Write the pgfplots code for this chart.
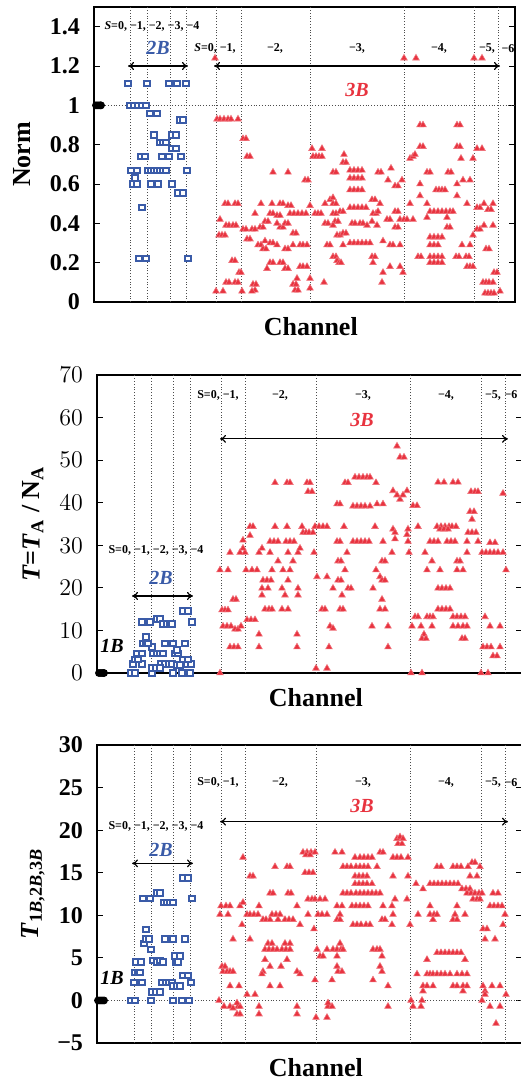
\documentclass[border=0pt]{standalone}
\usepackage{fontspec}
\setmainfont{Liberation Serif}
\usepackage{pgfplots}
\pgfplotsset{compat=1.18}
\usetikzlibrary{arrows.meta}
\definecolor{blueB}{HTML}{3A5BA8}
\definecolor{redB}{HTML}{E8333F}

\pgfplotsset{
  chan/.style={
    scale only axis, clip=false,
    axis line style={line width=0.9pt},
    xtick=\empty, tick align=inside, major tick length=3pt,
    tick style={black, line width=0.5pt},
    tick label style={font=\fontsize{12}{12}\selectfont\bfseries},
    yticklabel style={xshift=-3.5pt},
    label style={font=\fontsize{13}{14}\selectfont\bfseries},
    xlabel={Channel},
    xlabel style={at={(axis description cs:0.515,-0.083)}, anchor=center},
    grid style={densely dotted, black!70, line width=0.4pt},
    extra x tick labels={},
    extra x tick style={grid=major, major tick length=0pt},
  },
  red3/.style={only marks, mark=triangle*, mark size=1.9pt,
    mark options={fill=redB, draw=redB!70!white, line width=0.3pt}},
  blue2/.style={only marks, mark=square*, mark size=1.35pt,
    mark options={fill=white, draw=blueB, line width=1pt}},
  one/.style={only marks, mark=*, mark size=1.75pt, black},
}
\tikzset{
  ann/.style={font=\fontsize{6}{6}\selectfont\bfseries},
  lab/.style={font=\fontsize{10}{10}\selectfont\bfseries\itshape},
  arr/.style={{To[length=3pt,width=4pt]}-{To[length=3pt,width=4pt]}, line width=0.6pt},
}

\begin{document}
\begin{tikzpicture}

% ---------- panel 1: Norm ----------
\begin{axis}[chan,
  at={(47pt,-151pt)}, anchor=south west,
  width=210.5pt, height=147.5pt,
  xmin=94, xmax=515, ymin=0, ymax=1.5,
  ytick={0,0.2,0.4,0.6,0.8,1,1.2,1.4},
  yticklabels={0,0.2,0.4,0.6,0.8,1,1.2,1.4},
  extra x ticks={130,147,170,186,216,241,310,404,474,498},
  extra y ticks={1}, extra y tick labels={},
  extra y tick style={grid=major, major tick length=0pt},
  ylabel={Norm},
  ylabel style={at={(axis description cs:-0.171,0.5)}, anchor=center},
]
\addplot[one] coordinates {(96,1)(98,1)(100,1)(101,1)};
\addplot[blue2] coordinates {
(128,1.11)(147,1.11)(169,1.11)(177,1.11)(186,1.11)
(130,1.00)(134,1.00)(138,1.00)(142,1.00)(146,1.00)
(150,0.96)(157,0.96)(180,0.925)(183,0.925)
(154,0.85)(172,0.85)(176,0.85)(160,0.81)(163,0.81)(166,0.81)
(172,0.78)(176,0.78)
(141,0.74)(145,0.74)(162,0.74)(169,0.74)(181,0.74)
(131,0.67)(137,0.67)(148,0.67)(151,0.67)(154,0.67)(157,0.67)(160,0.67)(163,0.67)(166,0.67)(187,0.67)
(135,0.63)(133,0.60)(137,0.60)(151,0.60)(158,0.60)(172,0.60)
(178,0.555)(183,0.555)(142,0.48)
(139,0.22)(146,0.22)(188,0.22)
};
\addplot[red3] coordinates {
(215,1.24)(404,1.24)(416,1.24)(474,1.24)(482,1.24)
(217,0.93)(220,0.93)(224,0.93)(228,0.93)(231,0.93)(238,0.93)
(243,0.83)(246,0.83)(247,0.74)(250,0.74)
(312,0.78)(322,0.78)(313,0.74)(316,0.74)(319,0.74)(322,0.74)
(344,0.75)(343,0.71)(346,0.71)
(273,0.66)(288,0.66)(305,0.62)(308,0.62)(333,0.66)(336,0.66)
(350,0.67)(354,0.67)(358,0.67)(362,0.67)
(350,0.63)(354,0.63)(358,0.63)(362,0.63)
(350,0.57)(354,0.57)(358,0.57)(362,0.57)
(378,0.66)(381,0.66)(391,0.68)(388,0.62)(395,0.59)(398,0.59)(402,0.62)
(420,0.90)(423,0.90)(457,0.90)(460,0.90)
(420,0.79)(423,0.79)(457,0.79)(460,0.79)
(410,0.73)(413,0.74)(415,0.75)(427,0.66)(430,0.66)(448,0.66)(451,0.66)
(461,0.73)(473,0.73)(477,0.78)(482,0.78)
(420,0.60)(436,0.57)(439,0.57)(442,0.57)(445,0.57)(457,0.60)(463,0.62)(470,0.62)
(410,0.50)(420,0.54)(427,0.50)(457,0.54)(467,0.50)(477,0.48)(480,0.48)(484,0.50)(493,0.50)(488,0.47)(491,0.47)
(430,0.46)(434,0.46)(438,0.46)(442,0.46)(446,0.46)(450,0.46)(453,0.46)
(400,0.42)(404,0.42)(407,0.42)(413,0.42)(427,0.43)(447,0.43)(447,0.38)(450,0.38)
(477,0.37)(480,0.37)(484,0.39)(493,0.39)(473,0.34)
(430,0.33)(434,0.33)(438,0.33)(442,0.33)(430,0.29)(434,0.29)(438,0.29)(462,0.29)(470,0.29)(486,0.27)(489,0.27)
(418,0.23)(421,0.23)(430,0.23)(434,0.23)(438,0.23)(442,0.23)(430,0.20)(434,0.20)(438,0.20)(442,0.20)
(456,0.23)(459,0.23)(466,0.23)(469,0.23)(467,0.18)(470,0.18)(473,0.18)
(494,0.15)(497,0.15)(483,0.10)(486,0.10)(489,0.10)(493,0.10)
(485,0.045)(488,0.045)(491,0.045)(494,0.045)(500,0.055)
(390,0.18)(400,0.18)(383,0.15)(403,0.15)(382,0.10)
(373,0.20)(372,0.23)(375,0.23)(333,0.23)(336,0.23)(337,0.21)(339,0.20)(341,0.20)
(324,0.10)(310,0.12)(310,0.07)
(293,0.09)(296,0.09)(297,0.12)(295,0.06)(298,0.06)
(253,0.09)(256,0.09)(255,0.06)(252,0.055)(242,0.055)(216,0.055)(223,0.055)(226,0.10)(229,0.10)(235,0.10)(238,0.10)
(239,0.15)(241,0.15)(232,0.21)(235,0.21)
(220,0.42)(225,0.50)(228,0.50)(235,0.50)(238,0.50)(226,0.39)(229,0.39)(233,0.39)(236,0.39)(219,0.34)(222,0.34)(225,0.34)
(243,0.37)(246,0.37)(252,0.37)(255,0.37)(247,0.32)(250,0.32)
(255,0.45)(261,0.50)(258,0.29)(261,0.29)(265,0.31)(263,0.27)(266,0.27)
(260,0.38)(263,0.38)(265,0.41)(268,0.41)(270,0.45)(273,0.45)(272,0.50)
(280,0.50)(283,0.50)(288,0.49)(291,0.49)
(290,0.45)(294,0.45)(298,0.45)(302,0.45)(306,0.45)
(277,0.44)(280,0.44)(280,0.38)(283,0.38)(277,0.40)(285,0.40)(288,0.40)(293,0.35)(296,0.35)
(270,0.30)(273,0.30)(277,0.29)(285,0.27)(288,0.27)(293,0.29)(300,0.29)(303,0.29)(307,0.29)
(270,0.20)(273,0.20)(267,0.17)(280,0.20)(283,0.20)(285,0.17)(288,0.17)(300,0.18)(303,0.18)(307,0.18)
(310,0.49)(315,0.45)(318,0.45)(321,0.45)(325,0.50)(330,0.52)(333,0.53)(333,0.50)(336,0.50)
(333,0.45)(336,0.45)(340,0.46)(343,0.46)
(325,0.40)(328,0.40)(335,0.41)(338,0.41)(333,0.39)(337,0.34)(340,0.34)
(327,0.29)(330,0.29)(343,0.29)(343,0.35)(346,0.35)
(350,0.30)(354,0.30)(358,0.30)(362,0.30)(366,0.30)(370,0.30)
(352,0.40)(355,0.40)(360,0.40)(363,0.40)(367,0.39)(372,0.41)(377,0.39)
(373,0.45)(376,0.45)(378,0.46)(372,0.52)(375,0.52)(380,0.50)
(350,0.48)(354,0.48)(358,0.48)(362,0.48)(366,0.48)
(387,0.42)(390,0.42)(395,0.46)(398,0.46)(395,0.38)(398,0.38)
(383,0.31)(390,0.29)(393,0.29)(400,0.29)
};
\draw[arr] (axis cs:128,1.2) -- (axis cs:188,1.2);
\draw[arr] (axis cs:214,1.2) -- (axis cs:500,1.2);
\node[ann] at (axis cs:152,1.40) {\textit{S}=0, −1, −2, −3, −4};
\node[lab, text=blueB] at (axis cs:158,1.29) {2B};
\node[ann] at (axis cs:215,1.29) {\textit{S}=0, −1,};
\node[ann] at (axis cs:275,1.29) {−2,};
\node[ann] at (axis cs:357,1.29) {−3,};
\node[ann] at (axis cs:439,1.29) {−4,};
\node[ann] at (axis cs:487,1.29) {−5,};
\node[ann] at (axis cs:508,1.29) {−6};
\node[lab, text=redB] at (axis cs:357,1.08) {3B};
\end{axis}

% ---------- panel 2: T = T_A / N_A ----------
\begin{axis}[chan,
  at={(48.5pt,-336.5pt)}, anchor=south west,
  width=212.5pt, height=149pt,
  xmin=97, xmax=522, ymin=0, ymax=70,
  ytick={0,10,20,30,40,50,60,70},
  extra x ticks={134,151,173,190,221,245,316,410,481,505},
  ylabel={\textit{T}=\textit{T}\textsubscript{A} / N\textsubscript{A}},
  ylabel style={at={(axis description cs:-0.151,0.5)}, anchor=center},
]
\addplot[one] coordinates {(99,0)(101,0)(103,0)(104,0)};
\addplot[blue2] coordinates {
(131,0)(135,0)(152,0)(173,0)(182,0)(190,0)
(133,2.1)(142,2.1)(161,2.1)(165,2.1)(169,2.1)(172,2.1)(187,2.1)(191,2.1)
(152,1.2)(156,1.2)(160,1.2)(177,1.9)(180,1.9)
(135,3.2)(138,3.2)(183,3.2)(188,3.2)
(137,4.6)(142,4.6)(153,4.6)(157,4.6)(160,4.6)(163,4.6)(175,4.6)(178,4.6)
(177,5.4)(152,6.1)
(143,7.0)(146,7.0)(148,7.0)(165,7.0)(173,7.0)(185,7.0)(146,8.5)
(142,12.0)(150,12.0)(192,12.0)(157,12.7)(160,12.7)
(163,11.5)(167,11.5)(170,11.5)(172,11.5)(183,14.6)(188,14.6)
};
\addplot[red3] coordinates {
(397,53.3)(400,50.7)(404,50.7)
(275,44.7)(287,44.7)(290,44.7)(307,44.7)(310,44.7)(345,44.7)(348,44.7)
(355,46.0)(359,46.0)(363,46.0)(367,46.0)(370,46.0)(376,44.7)
(308,42.6)(312,42.6)
(393,42.8)(407,42.8)(397,41.8)(400,40.8)(403,41.8)
(337,39.7)(340,39.7)(353,39.2)(357,39.2)(361,39.2)(365,39.2)(370,39.2)(377,39.7)(383,39.7)
(413,39.3)(417,39.3)
(438,44.8)(444,44.8)(453,44.8)(458,44.8)
(471,42.6)(475,42.6)(478,42.6)(503,42.2)
(470,37.9)(474,37.9)(472,36.1)
(250,34.4)(253,34.4)(275,34.4)(287,34.4)(302,34.4)(315,34.4)(319,34.4)(323,34.4)(327,34.4)(344,34.4)(375,34.4)(418,34.4)
(437,34.4)(441,34.4)(445,34.4)(449,34.4)(452,34.4)(456,34.4)
(393,33.8)(408,33.8)(440,33.8)(444,33.8)(448,33.8)
(303,33)(306,33)(309,33)(313,33)(250,32.3)(395,33)(407,32.5)(468,33)(472,33)(476,33)
(270,30.9)(274,30.9)(278,30.9)(286,30.9)(290,30.9)(294,30.9)(337,30.9)(340,30.9)
(353,30.9)(357,30.9)(361,30.9)(365,30.9)(369,30.9)(383,30.9)(395,31.5)(408,30.9)
(430,30.9)(434,30.9)(438,30.9)(447,30.9)(451,30.9)(455,30.9)(467,30.9)(478,30.9)(490,30.6)(495,30.6)
(230,28.3)(240,28.3)(245,28.3)(259,28.3)(270,28.3)(288,28.3)(298,28.3)(314,28.3)(347,28.3)(392,28.3)(409,28.3)(425,28.3)(467,28.3)
(482,28.3)(486,28.3)(490,28.3)(494,28.3)(498,28.3)(503,28.3)
(243,29.3)(262,29.3)(300,29.3)(243,31.2)
(278,26.3)(293,26.3)(338,26.3)(341,26.3)(382,26.3)(385,26.3)(432,26.3)(457,26.3)(460,26.3)
(220,24.2)(228,24.2)(246,24.2)(252,24.2)(257,24.2)(272,24.2)(283,24.2)(290,24.2)(345,24.2)(376,24.2)(427,24.2)(440,24.2)(457,24.2)(463,24.2)(506,24.2)
(317,22.6)(327,22.6)(380,22.6)
(263,21.8)(267,21.8)(271,21.8)(288,21.8)(338,21.8)(341,21.8)(382,21.8)(385,21.8)
(262,19.9)(268,19.9)(282,19.9)(298,19.9)(333,19.9)(348,19.9)(351,19.9)(373,19.9)(438,19.9)(442,19.9)(446,19.9)(450,19.9)
(262,18.3)(285,18.3)(298,18.3)(342,18.3)
(233,17.3)(236,17.3)(382,17.3)
(222,14.8)(225,14.8)(228,14.8)(265,15)(269,15)(272,15)(282,15)(288,15)(322,15)(325,15)(340,15)(343,15)(380,15)(385,15)(438,15)(442,15)(446,15)(450,15)
(415,13.2)(418,13.2)(427,13.2)(430,13.2)(433,13.2)(453,13.2)(457,13.2)(461,13.2)(465,13.2)(485,13.2)
(247,12.5)(251,12.5)(255,12.5)
(223,11)(227,11)(231,11)(235,10.3)(238,10.3)(241,11)(330,11)(333,10.5)(372,11)(388,11)(412,11)(421,11)(432,11)(453,11)(458,11)(463,11)(467,11)(490,11)(500,11)
(259,9.1)(297,9.1)(424,9.1)(422,8.1)(426,8.1)(462,8.1)(465,8.1)
(230,6.1)(234,6.1)(238,6.1)(259,6.1)(297,6.1)(329,6.1)(388,6.1)(483,6.1)(487,6.1)(491,6.1)(500,6.1)
(493,4.0)(497,4.0)(316,1.1)(327,1.1)
(220,0)(411,0)(422,0)(481,0)(488,0)
};
\draw[arr] (axis cs:132,18.1) -- (axis cs:193,18.1);
\draw[arr] (axis cs:220,55) -- (axis cs:508,55);
\node[ann] at (axis cs:156,28.7) {S=0, −1, −2, −3, −4};
\node[lab, text=blueB] at (axis cs:161,22.3) {2B};
\node[lab] at (axis cs:112,6.3) {1B};
\node[ann] at (axis cs:218,65.3) {S=0, −1,};
\node[ann] at (axis cs:280,65.3) {−2,};
\node[ann] at (axis cs:363,65.3) {−3,};
\node[ann] at (axis cs:446,65.3) {−4,};
\node[ann] at (axis cs:493,65.3) {−5,};
\node[ann] at (axis cs:511,65.3) {−6};
\node[lab, text=redB] at (axis cs:362,59.4) {3B};
\end{axis}

% ---------- panel 3: T_{1B,2B,3B} ----------
\begin{axis}[chan,
  at={(48.5pt,-521.5pt)}, anchor=south west,
  width=212.5pt, height=149pt,
  xmin=97, xmax=522, ymin=-5, ymax=30,
  ytick={-5,0,5,10,15,20,25,30},
  yticklabels={−5,0,5,10,15,20,25,30},
  extra x ticks={134,151,173,190,221,245,316,410,481,505},
  extra y ticks={0}, extra y tick labels={},
  extra y tick style={grid=major, major tick length=0pt},
  ylabel={\textit{T}\textsubscript{1\textit{B},2\textit{B},3\textit{B}}},
  ylabel style={at={(axis description cs:-0.151,0.5)}, anchor=center},
]
\addplot[one] coordinates {(98,0)(100,0)(102,0)(104,0)};
\addplot[blue2] coordinates {
(131,0)(135,0)(151,0)(173,0)(182,0)(189,0)
(134,2.1)(142,2.1)(162,2.1)(166,2.1)(169,2.1)(172,2.1)(191,2.1)
(152,1.0)(156,1.0)(160,1.0)(173,1.7)(177,1.7)(180,1.7)
(183,2.9)(188,2.9)(135,3.25)(138,3.25)(140,3.25)
(136,4.5)(141,4.5)(153,4.7)(157,4.5)(160,4.7)(163,4.5)(176,4.5)(178,4.5)
(175,5.2)(180,5.2)
(151,6.0)(144,6.7)(146,7.2)(149,7.2)(165,7.2)(173,7.2)(185,7.2)(146,8.3)
(143,12.0)(150,12.0)(192,12.0)(157,12.6)(160,12.6)
(164,11.5)(167,11.5)(170,11.5)(173,11.5)(183,14.4)(188,14.4)
};
\addplot[red3] coordinates {
(397,19)(400,19.2)(403,19)(398,18.4)(402,18.4)
(303,17.4)(307,17.4)(311,17.4)(315,17.4)(306,17.1)(310,17.1)(335,17.4)(342,17.4)(380,17.4)(383,17.4)
(243,16.8)(355,16.8)(360,16.8)(364,16.8)(368,16.8)(372,16.8)(393,16.8)(397,16.8)(401,16.8)(408,16.8)
(472,16.2)(475,16.2)
(275,15.7)(287,15.7)(290,15.7)(343,15.7)(347,15.7)(351,15.7)(356,15.7)(360,15.7)(364,15.7)(368,15.7)(377,15.7)
(437,15.7)(441,15.7)(453,15.7)(457,15.7)(461,15.7)(468,15.7)(480,15.7)
(305,15)(309,15)(313,15)
(250,14.6)(253,14.6)(355,14.6)(359,14.6)(363,14.6)(367,14.6)(393,14.6)(408,14.6)(470,14.6)(477,14.6)
(355,13.7)(359,13.7)(363,13.7)(367,13.7)(372,13.7)(416,13.7)(430,13.7)(434,13.7)(438,13.7)(442,13.7)(446,13.7)(450,13.7)(454,13.7)(458,13.7)
(423,13.1)(462,13.1)(466,13.1)(470,13.1)
(270,12.6)(273,12.6)(288,12.6)(291,12.6)(343,12.6)(347,12.6)(351,12.6)(356,12.6)(360,12.6)(364,12.6)(368,12.6)(372,12.6)(376,12.6)(380,12.6)
(467,12.6)(471,12.6)(475,12.6)(479,12.6)(482,12.6)(493,12.6)(498,12.6)
(308,11.9)(312,11.9)(315,11.9)(320,11.9)(325,11.9)(395,11.9)(407,11.9)(473,11.9)(477,11.9)(480,11.9)
(221,11.1)(226,11.1)(230,11.1)(240,11.1)(243,11.5)(259,11.1)(297,11.1)(337,11.1)(342,11.1)(352,11.1)(356,11.1)(360,11.1)(364,11.1)(368,11.1)(383,11.1)(392,11.1)(430,11.1)(457,11.1)(490,11.1)(494,11.1)(498,11.1)(502,11.1)
(220,10.1)(228,10.1)(247,10.1)(250,10.1)(254,10.1)(258,10.1)(272,10.1)(276,10.1)(280,10.1)(308,10.1)(318,10.1)(322,10.1)(327,10.1)(340,10.1)(393,10.1)(418,10.1)(430,10.1)(434,10.1)(437,10.1)(455,10.1)(465,10.1)(505,10.1)
(263,9.5)(266,9.5)(270,9.5)(278,9.5)(285,9.5)(289,9.5)(293,9.5)(337,9.5)(340,9.5)(382,9.5)(385,9.5)(433,9.5)(453,9.5)(457,9.5)
(242,8.9)(300,8.9)(353,8.9)(357,8.9)(361,8.9)(366,8.9)(370,8.9)(392,8.9)(410,8.9)(503,8.9)
(314,8.4)(483,8.4)(487,8.4)
(233,7.2)(250,7.2)(485,7.2)(495,7.2)
(268,6.7)(272,6.7)(285,6.7)(290,6.7)(340,6.7)
(265,6)(269,6)(273,6)(277,6)(282,6)(286,6)(290,6)(317,6)(327,6)(333,6)(337,6)(341,6)(343,6)(373,6)(377,6)(380,6)
(320,5.2)(323,5.2)(337,5.2)(382,5.2)(437,5.6)(441,5.6)(445,5.6)(449,5.6)(453,5.6)(457,5.6)(461,5.6)
(265,4.8)(287,4.8)(427,4.8)(465,4.8)
(222,4.0)(225,4.0)(270,4.0)(281,4.0)(337,4.0)(380,4.0)
(223,3.4)(227,3.4)(230,3.4)(233,3.4)(263,3.4)(297,3.4)(338,3.4)(342,3.4)(382,3.4)
(262,3.1)(300,3.1)(417,3.1)(427,3.1)(430,3.1)(433,3.1)(437,3.1)(441,3.1)(445,3.1)(450,3.1)(457,3.1)(462,3.1)(467,3.1)
(315,2.4)(332,2.4)(373,2.4)
(230,1.7)(239,1.7)(270,1.7)(280,1.7)(388,1.7)(423,1.7)(427,1.7)(433,1.7)(453,1.7)(457,1.7)(463,1.7)(467,1.7)(483,1.7)(492,1.7)(500,1.7)
(463,1.1)(423,1.1)(485,1.1)
(247,0.7)(255,0.7)(485,0.7)(506,0.7)
(219,0)(411,0)(422,0)(482,0)
(224,-0.7)(230,-0.7)(238,-0.7)(240,-0.7)(259,-0.7)(297,-0.7)(328,-0.7)(332,-0.7)(388,-0.7)(413,-0.7)(421,-0.7)(490,-0.7)(500,-0.7)
(237,-0.3)(328,-0.3)(233,-0.9)
(237,-1.6)(240,-1.6)(259,-1.6)(297,-1.6)
(316,-2.0)(327,-2.0)(496,-2.7)
};
\draw[arr] (axis cs:132,16.1) -- (axis cs:193,16.1);
\draw[arr] (axis cs:220,21) -- (axis cs:508,21);
\node[ann] at (axis cs:156,20.4) {S=0, −1, −2, −3, −4};
\node[lab, text=blueB] at (axis cs:161,17.7) {2B};
\node[lab] at (axis cs:112,2.7) {1B};
\node[ann] at (axis cs:218,25.6) {S=0, −1,};
\node[ann] at (axis cs:280,25.6) {−2,};
\node[ann] at (axis cs:363,25.6) {−3,};
\node[ann] at (axis cs:446,25.6) {−4,};
\node[ann] at (axis cs:493,25.6) {−5,};
\node[ann] at (axis cs:511,25.6) {−6};
\node[lab, text=redB] at (axis cs:362,22.8) {3B};
\end{axis}

\pgfresetboundingbox
\path[use as bounding box] (0pt,0pt) rectangle (260pt,-541pt);
\end{tikzpicture}
\end{document}
